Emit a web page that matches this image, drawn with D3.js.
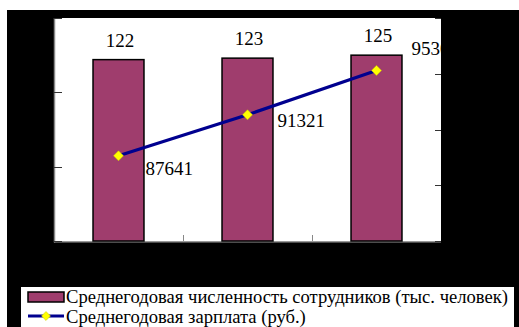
<!DOCTYPE html>
<html><head><meta charset="utf-8">
<script src="https://cdn.jsdelivr.net/npm/d3@7"></script>
</head>
<body style="margin:0">
<svg id="chart" width="519" height="327"></svg>
<script>
// ---- data ----
const categories = ["Период 1", "Период 2", "Период 3"];
const staffValues = [122, 123, 125];          // тыс. человек
const salaryValues = [87641, 91321, 95300];    // руб.
const leftTicks = [0, 50, 100, 150];
const rightTicks = [80000, 85000, 90000, 95000, 100000];
const seriesNames = ["Среднегодовая численность сотрудников (тыс. человек)", "Среднегодовая зарплата (руб.)"];

// ---- layout ----
const svg = d3.select("#chart");
const W = 519, H = 327;
const plot = {x0: 54, x1: 441, y0: 18, y1: 241};
const barColor = "#9f3d6d", lineColor = "#00008f", markerColor = "#ffff00";

svg.append("rect").attr("x", 7).attr("y", 10).attr("width", W - 7).attr("height", H - 10).attr("fill", "#000");
svg.append("rect").attr("x", plot.x0).attr("y", plot.y0).attr("width", plot.x1 - plot.x0).attr("height", plot.y1 - plot.y0).attr("fill", "#fff");

const x = d3.scaleBand().domain(categories).range([plot.x0, plot.x1]);
const yL = d3.scaleLinear().domain([0, 150]).range([plot.y1, plot.y0]);
const yR = d3.scaleLinear().domain([80000, 100000]).range([plot.y1, plot.y0]);

svg.append("line").attr("x1", plot.x0 + 0.5).attr("x2", plot.x0 + 0.5).attr("y1", plot.y0).attr("y2", plot.y1 + 1.5).attr("stroke", "#888").attr("stroke-width", 1.5);
svg.append("line").attr("x1", plot.x0).attr("x2", plot.x1).attr("y1", plot.y1 + 0.75).attr("y2", plot.y1 + 0.75).attr("stroke", "#999").attr("stroke-width", 1.5);

svg.selectAll(".lt1").data(leftTicks).enter().append("line")
  .attr("x1", plot.x0).attr("x2", plot.x0 + 8)
  .attr("y1", d => Math.round(yL(d)) + 0.5).attr("y2", d => Math.round(yL(d)) + 0.5)
  .attr("stroke", "#333").attr("stroke-width", 1);
svg.selectAll(".rt1").data(rightTicks).enter().append("line")
  .attr("x1", plot.x1 - 6).attr("x2", plot.x1)
  .attr("y1", d => Math.round(yR(d)) + 0.5).attr("y2", d => Math.round(yR(d)) + 0.5)
  .attr("stroke", "#333").attr("stroke-width", 1);
svg.selectAll(".xt").data(categories.slice(1)).enter().append("line")
  .attr("x1", d => x(d) + 0.5).attr("x2", d => x(d) + 0.5).attr("y1", plot.y1).attr("y2", plot.y1 - 6)
  .attr("stroke", "#888").attr("stroke-width", 1);

const barW = x.bandwidth() * 0.395;
svg.selectAll(".bar").data(staffValues).enter().append("rect")
  .attr("x", (d, i) => x(categories[i]) + x.bandwidth() / 2 - barW / 2)
  .attr("y", d => yL(d))
  .attr("width", barW)
  .attr("height", d => plot.y1 - yL(d))
  .attr("fill", barColor).attr("stroke", "#000").attr("stroke-width", 1.5);

svg.selectAll(".bl").data(staffValues).enter().append("text")
  .attr("x", (d, i) => x(categories[i]) + x.bandwidth() / 2 + 1.5)
  .attr("y", d => yL(d) - 13)
  .attr("text-anchor", "middle").attr("font-size", 19).style("font-family", '"Liberation Serif"').attr("fill", "#000")
  .text(d => d);

const cx = i => x(categories[i]) + x.bandwidth() / 2;
const line = d3.line().x((d, i) => cx(i)).y(d => yR(d));
svg.append("path").datum(salaryValues).attr("d", line)
  .attr("fill", "none").attr("stroke", lineColor).attr("stroke-width", 3.2);
svg.selectAll(".mk").data(salaryValues).enter().append("path")
  .attr("d", d3.symbol().type(d3.symbolSquare).size(50))
  .attr("transform", (d, i) => `translate(${cx(i)},${yR(d)}) rotate(45)`)
  .attr("fill", markerColor).attr("stroke", "#c8c800").attr("stroke-width", 0.5);

const labelOffsets = [[27, 19], [30, 12], [35, -15]];
svg.selectAll(".ll").data(salaryValues).enter().append("text")
  .attr("x", (d, i) => cx(i) + labelOffsets[i][0])
  .attr("y", (d, i) => yR(d) + labelOffsets[i][1])
  .attr("font-size", 19).style("font-family", '"Liberation Serif"').attr("fill", "#000")
  .text(d => d);

const lg = svg.append("g");
lg.append("rect").attr("x", 20.5).attr("y", 286.5).attr("width", 494).attr("height", 45)
  .attr("fill", "#fff").attr("stroke", "#000").attr("stroke-width", 1);
lg.append("rect").attr("x", 28).attr("y", 292).attr("width", 36).attr("height", 10)
  .attr("fill", barColor).attr("stroke", "#000").attr("stroke-width", 1.5);
lg.append("line").attr("x1", 28).attr("x2", 64).attr("y1", 316).attr("y2", 316)
  .attr("stroke", lineColor).attr("stroke-width", 3);
lg.append("path").attr("d", d3.symbol().type(d3.symbolSquare).size(40))
  .attr("transform", "translate(46,316) rotate(45)").attr("fill", markerColor).attr("stroke", "#c8c800").attr("stroke-width", 0.5);
lg.selectAll(".lgt").data(seriesNames).enter().append("text")
  .attr("x", 66).attr("y", (d, i) => 303 + i * 20)
  .attr("font-size", 18.6).style("font-family", '"Liberation Serif"').attr("fill", "#000")
  .text(d => d);
</script>
</body></html>
